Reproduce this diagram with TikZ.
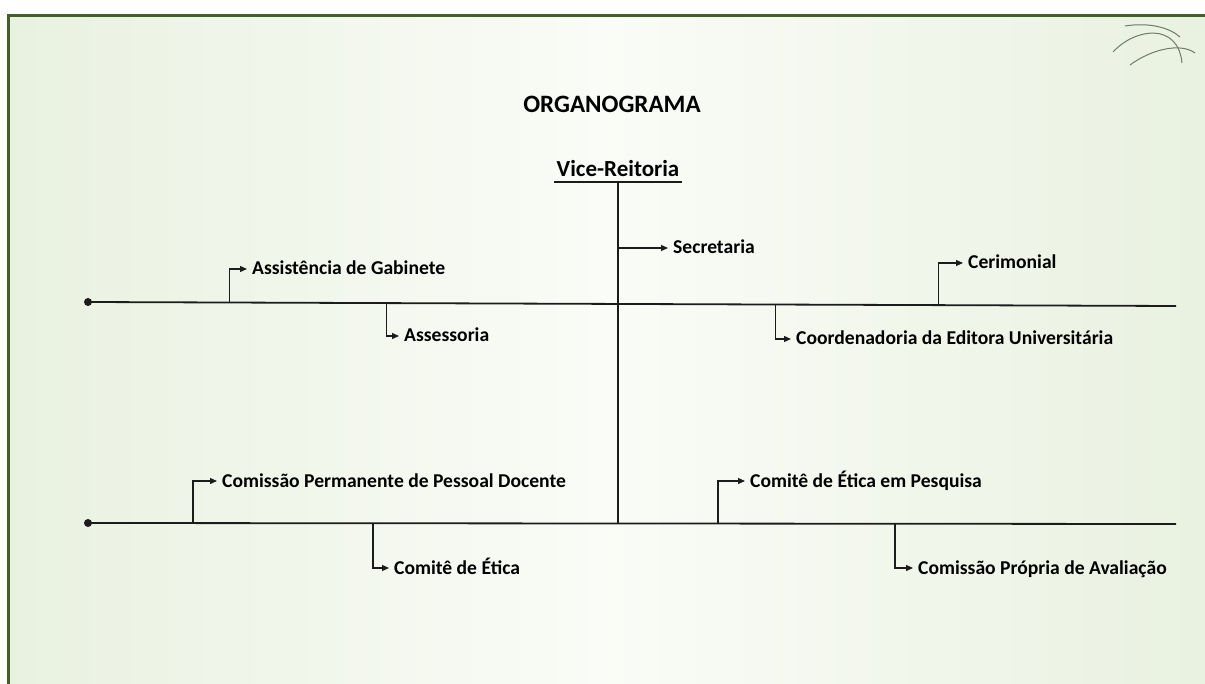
\documentclass[tikz,border=0pt]{standalone}
\usepackage{fontspec}
\setmainfont{Carlito}
\usetikzlibrary{calc,arrows.meta}
\definecolor{orgFrame}{HTML}{42602A}
\definecolor{orgPale}{HTML}{E9F1E0}
\definecolor{orgMid}{HTML}{FAFCF7}
\definecolor{orgLine}{HTML}{1C1C1C}
\definecolor{orgLeaf}{HTML}{6F7A68}

\begin{document}
\begin{tikzpicture}[x=1pt, y=-1pt,
  unit/.style={anchor=west, inner xsep=5pt, inner ysep=0pt, text height=12pt, text depth=0pt,
    font=\fontsize{19.6}{23}\selectfont\bfseries},
  trunk/.style={line width=1.8pt, color=orgLine},
  branch/.style={line width=1.2pt, color=orgLine, -{Triangle[length=7pt, width=6pt]}},
  dot/.style={circle, fill=orgLine, inner sep=0pt, minimum size=8pt}
]
  \useasboundingbox (0,0) rectangle (1205,684);
  % background and frame
  \shade[left color=orgPale, right color=orgPale, middle color=orgMid] (9,16) rectangle (1205,684);
  \draw[orgFrame, line width=3pt] (8.5,684) -- (8.5,15.5) -- (1205,15.5);
  \draw[orgLeaf, line width=1pt] (1125,26) .. controls (1150,22) and (1170,28) .. (1180,37);
  \draw[orgLeaf, line width=1pt] (1113,52) .. controls (1135,28) and (1178,22) .. (1182,63);
  \draw[orgLeaf, line width=1pt] (1130,65) .. controls (1150,50) and (1180,42) .. (1195,53);

  \node[font=\fontsize{25}{29}\selectfont\bfseries] (title) at (612,104) {ORGANOGRAMA};
  \node[anchor=base, inner xsep=2pt, inner ysep=5pt, font=\fontsize{23}{27}\selectfont\bfseries]
    (vice) at (618,177) {Vice-Reitoria};
  \draw[trunk] (vice.south west) -- (vice.south east);

  % the two horizontal lines
  \node[dot] (upL) at (88,302) {};
  \coordinate (upR) at (1176,306);
  \node[dot] (loL) at (88,523) {};
  \coordinate (loR) at (1176,524);
  \draw[trunk] (upL.center) -- (upR);
  \draw[trunk] (loL.center) -- (loR);
  \draw[trunk] (vice.south) -- (vice.south |- loL);

  \node[unit] (sec) at (668,248) {Secretaria};
  \node[unit] (gab) at (247,269) {Assistência de Gabinete};
  \node[unit] (ase) at (399,336) {Assessoria};
  \node[unit] (cer) at (963,263) {Cerimonial};
  \node[unit] (coo) at (791,339) {Coordenadoria da Editora Universitária};
  \node[unit] (cpd) at (217,481) {Comissão Permanente de Pessoal Docente};
  \node[unit] (cet) at (389,568) {Comitê de Ética};
  \node[unit] (cep) at (745,481) {Comitê de Ética em Pesquisa};
  \node[unit] (cpa) at (913,568) {Comissão Própria de Avaliação};

  \draw[branch] (vice.south |- sec.west) -- (sec.west);
  \draw[branch] ($(upL)!0.130!(upR)$) |- (gab.west);
  \draw[branch] ($(upL)!0.274!(upR)$) |- (ase.west);
  \draw[branch] ($(upL)!0.782!(upR)$) |- (cer.west);
  \draw[branch] ($(upL)!0.632!(upR)$) |- (coo.west);
  \draw[branch] (193,523) |- (cpd.west);
  \draw[branch] (373,523) |- (cet.west);
  \draw[branch] (718,523) |- (cep.west);
  \draw[branch] (895,523) |- (cpa.west);
\end{tikzpicture}
\end{document}
